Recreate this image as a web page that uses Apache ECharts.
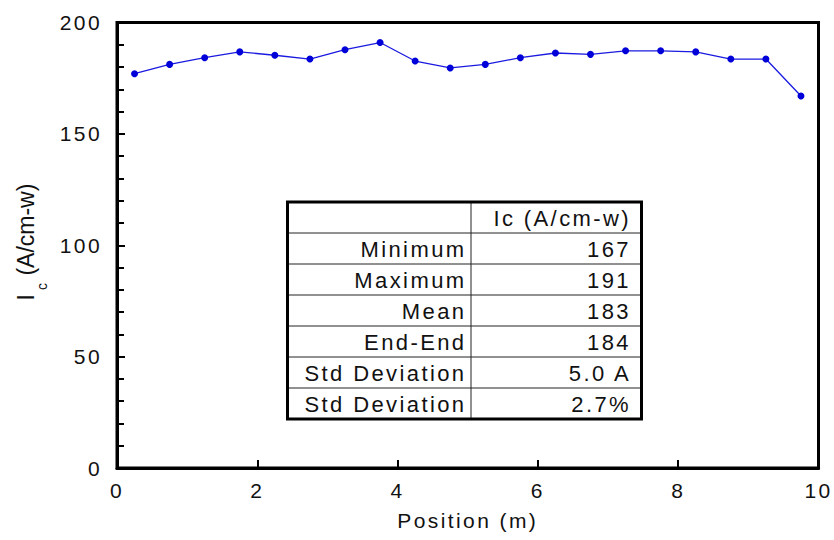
<!DOCTYPE html>
<html>
<head>
<meta charset="utf-8">
<script src="https://cdn.jsdelivr.net/npm/echarts@6/dist/echarts.min.js"></script>
<style>
  html, body { margin: 0; padding: 0; background: #fff; }
  #chart { width: 834px; height: 540px; }
  /* wide tracking for the Helvetica-style labels; the rotated title keeps normal spacing */
  #chart text { letter-spacing: 2.4px; }
  #chart text[style*="Arial"] { letter-spacing: 0; }
</style>
</head>
<body>
<div id="chart"></div>
<script>
// Critical current along the tape, sampled every 0.5 m
const positions = [0.25, 0.75, 1.25, 1.75, 2.25, 2.75, 3.25, 3.75, 4.25, 4.75,
                   5.25, 5.75, 6.25, 6.75, 7.25, 7.75, 8.25, 8.75, 9.25, 9.75];
const icValues = [177.0, 181.2, 184.2, 186.8, 185.3, 183.6, 187.8, 191.0, 182.7, 179.6,
                  181.2, 184.2, 186.3, 185.7, 187.3, 187.3, 186.8, 183.6, 183.6, 167.0];

// Summary table
const statHeader = 'Ic (A/cm-w)';
const statLabels = ['Minimum', 'Maximum', 'Mean', 'End-End', 'Std Deviation', 'Std Deviation'];
const statValues = ['167', '191', '183', '184', '5.0 A', '2.7%'];

const FONT = 'Liberation Sans';
const TEXT = '#111';

// table layout
const tbl = { left: 287.5, top: 202, right: 641.5, split: 471, rowH: 31 };
const nRows = statLabels.length + 1;
const tblBottom = tbl.top + nRows * tbl.rowH;

const tableGraphics = [];
tableGraphics.push({
  type: 'rect', z: 100,
  shape: { x: tbl.left, y: tbl.top, width: tbl.right - tbl.left, height: tblBottom - tbl.top },
  style: { fill: '#fff', stroke: 'none' }
});
for (let r = 1; r < nRows; r++) {
  const y = tbl.top + r * tbl.rowH;
  tableGraphics.push({
    type: 'line', z: 101,
    shape: { x1: tbl.left, y1: y, x2: tbl.right, y2: y },
    style: { stroke: '#222', lineWidth: 1 }
  });
}
tableGraphics.push({
  type: 'line', z: 101,
  shape: { x1: tbl.split, y1: tbl.top, x2: tbl.split, y2: tblBottom },
  style: { stroke: '#222', lineWidth: 1 }
});
tableGraphics.push({
  type: 'rect', z: 102,
  shape: { x: tbl.left, y: tbl.top, width: tbl.right - tbl.left, height: tblBottom - tbl.top },
  style: { fill: 'none', stroke: '#000', lineWidth: 3 }
});
function cellText(txt, x, row) {
  return {
    type: 'text', z: 103, x: x, y: tbl.top + (row + 0.5) * tbl.rowH + 1,
    style: { text: txt, fontSize: 22, fontFamily: FONT, fill: TEXT, align: 'right', verticalAlign: 'middle' }
  };
}
tableGraphics.push(cellText(statHeader, 631, 0));
statLabels.forEach((s, i) => tableGraphics.push(cellText(s, 466.5, i + 1)));
statValues.forEach((s, i) => tableGraphics.push(cellText(s, 631, i + 1)));

// rotated y-axis title with subscript c
const yTitle = {
  type: 'text', x: 26, y: 242, rotation: Math.PI / 2, z: 50,
  style: {
    text: '{m|I}{s|c}{m| (A/cm-w)}',
    align: 'center', verticalAlign: 'middle',
    fontFamily: 'Arial',
    rich: {
      m: { fontSize: 23, lineHeight: 46, fontFamily: 'Arial', fill: TEXT, verticalAlign: 'middle' },
      s: { fontSize: 14, lineHeight: 14, fontFamily: 'Arial', fill: TEXT, verticalAlign: 'bottom', padding: [0, 1, 0, 4] }
    }
  }
};

const chart = echarts.init(document.getElementById('chart'), null, { renderer: 'svg' });
chart.setOption({
  animation: false,
  backgroundColor: '#fff',
  grid: {
    left: 117, right: 15.5, top: 22.5, bottom: 72,
    show: true, borderColor: '#000', borderWidth: 3,
    containLabel: false, outerBoundsMode: 'none'
  },
  xAxis: {
    type: 'value', min: 0, max: 10, interval: 2,
    axisLine: { show: true, onZero: false, lineStyle: { color: '#000', width: 3 } },
    axisTick: { show: true, inside: true, length: 8, lineStyle: { color: '#000', width: 2 } },
    axisLabel: { fontSize: 21, fontFamily: FONT, color: TEXT, margin: 12 },
    splitLine: { show: false },
    name: 'Position (m)', nameLocation: 'middle', nameGap: 42,
    nameTextStyle: { fontSize: 21, fontFamily: FONT, color: TEXT }
  },
  yAxis: {
    type: 'value', min: 0, max: 200, interval: 50,
    axisLine: { show: true, onZero: false, lineStyle: { color: '#000', width: 3 } },
    axisTick: { show: true, inside: true, length: 8, lineStyle: { color: '#000', width: 2 } },
    minorTick: { show: true, splitNumber: 5, length: 7, lineStyle: { color: '#000', width: 2 } },
    axisLabel: { fontSize: 21, fontFamily: FONT, color: TEXT, margin: 15 },
    splitLine: { show: false },
    minorSplitLine: { show: false }
  },
  series: [{
    type: 'line',
    data: positions.map((x, i) => [x, icValues[i]]),
    symbol: 'circle', symbolSize: 7,
    lineStyle: { color: '#1a1ae0', width: 1.3 },
    itemStyle: { color: '#0000d8' },
    z: 10
  }],
  graphic: [yTitle].concat(tableGraphics)
});
</script>
</body>
</html>
